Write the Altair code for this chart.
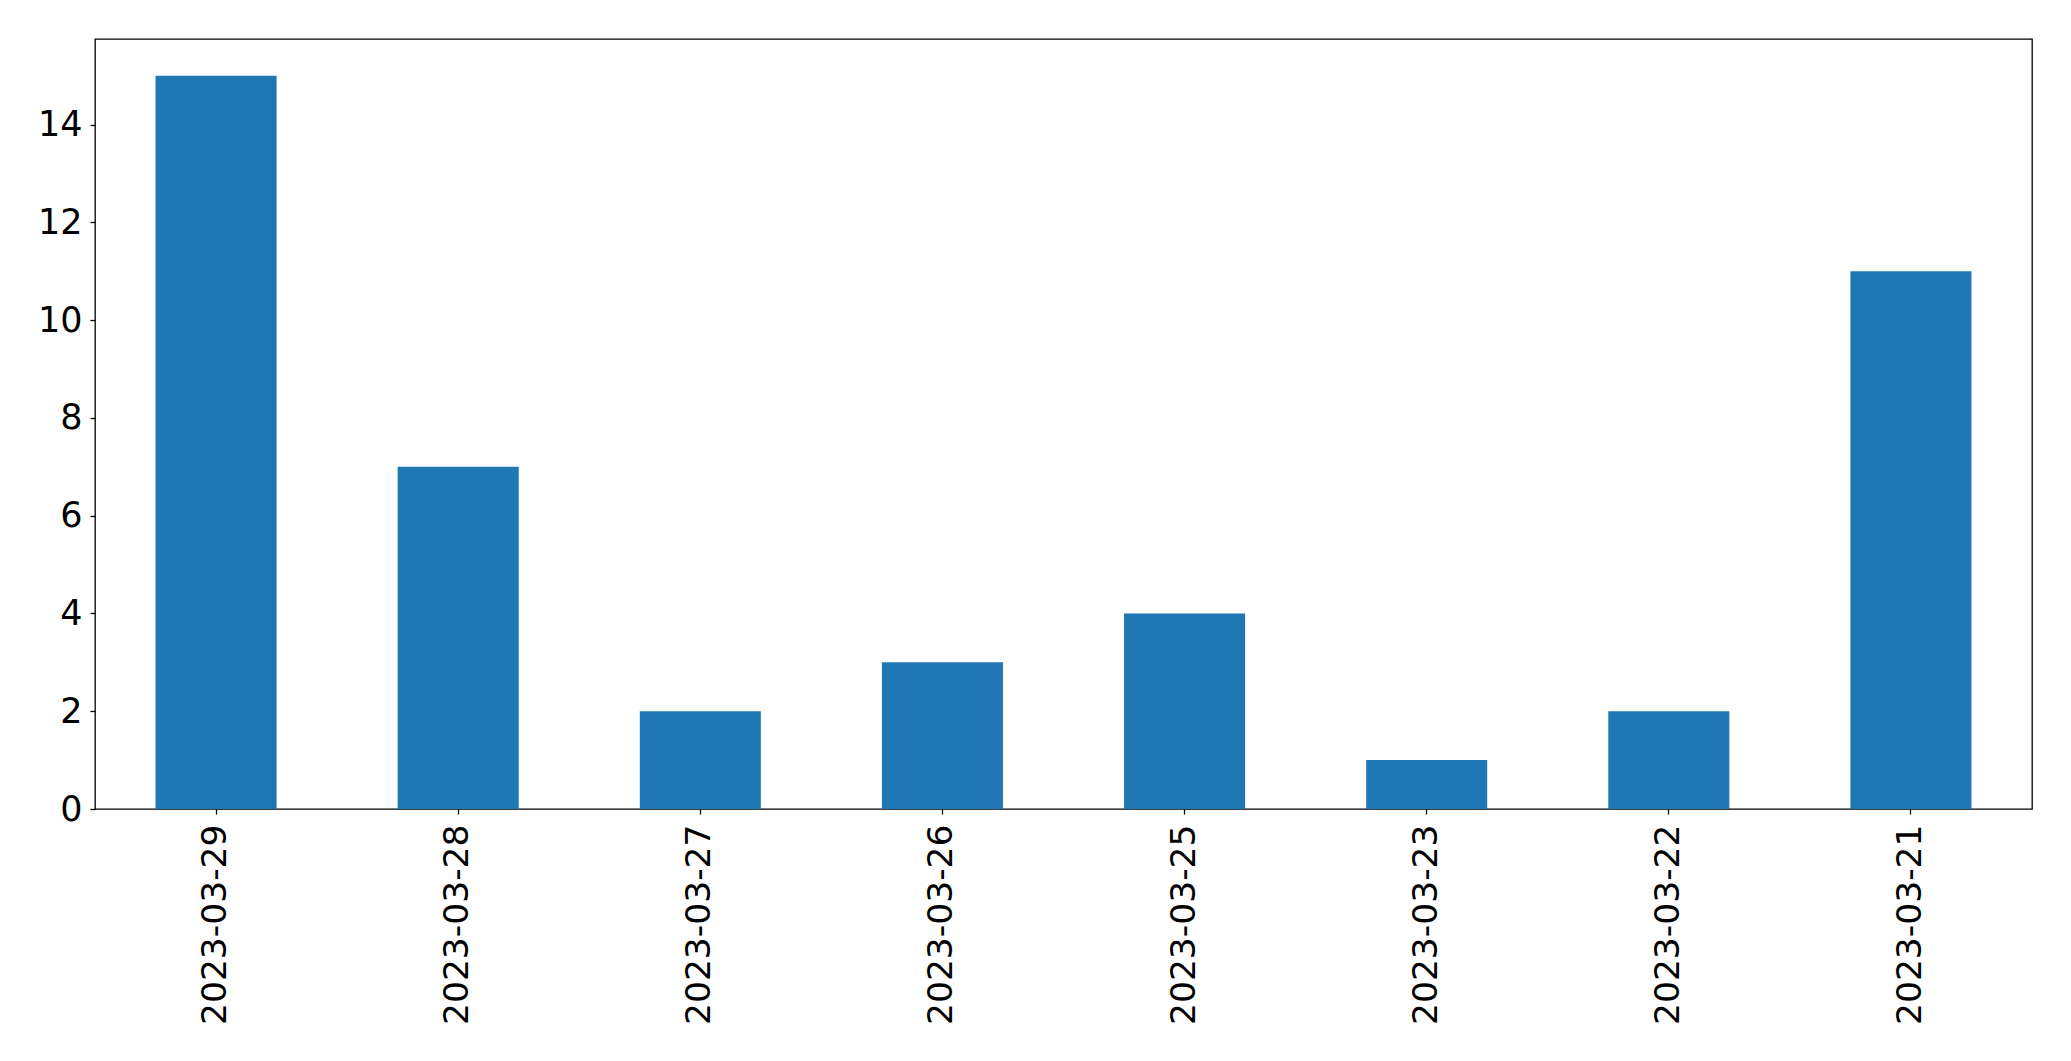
import altair as alt
import pandas as pd

dates = ["2023-03-29", "2023-03-28", "2023-03-27", "2023-03-26",
         "2023-03-25", "2023-03-23", "2023-03-22", "2023-03-21"]
counts = [15, 7, 2, 3, 4, 1, 2, 11]
y_ticks = [0, 2, 4, 6, 8, 10, 12, 14]

df = pd.DataFrame({"date": dates, "count": counts})

chart = alt.Chart(df).mark_bar(color="#1f77b4").encode(
    x=alt.X("date:N", sort=dates, title=None,
            scale=alt.Scale(paddingInner=0.5, paddingOuter=0.25),
            axis=alt.Axis(labelAngle=-90, labelFontSize=34.5, labelFont="DejaVu Sans",
                          labelColor="black", tickColor="black", tickSize=5,
                          tickWidth=1.3, labelPadding=10, labelLimit=1000,
                          domain=False, grid=False)),
    y=alt.Y("count:Q", title=None,
            scale=alt.Scale(domain=[0, 15.75], nice=False, zero=True),
            axis=alt.Axis(values=y_ticks, labelFontSize=35, labelFont="DejaVu Sans",
                          labelColor="black", tickColor="black", tickSize=5,
                          tickWidth=1.3, labelPadding=8, domain=False, grid=False)),
).properties(
    width=1937, height=770,
    autosize=alt.AutoSizeParams(type="none"),
    padding={"left": 87, "top": 31, "right": 30, "bottom": 244},
    background="white",
).configure_view(
    stroke="black", strokeWidth=1.3
)

chart.save("out.html", embed_options={"renderer": "svg", "actions": False})
